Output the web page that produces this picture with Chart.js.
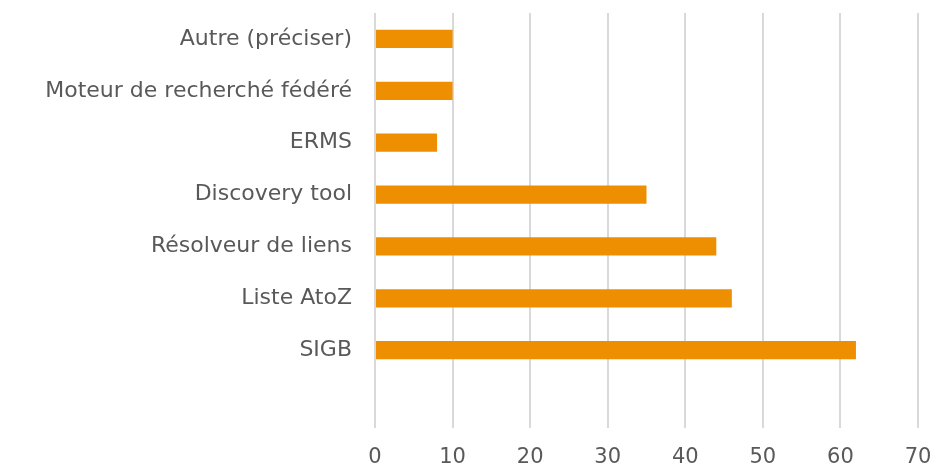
<!DOCTYPE html>
<html>
<head>
<meta charset="utf-8">
<style>
    html, body { margin: 0; padding: 0; background: #fff; }
    #wrap { width: 933px; height: 468px; }
</style>
</head>
<body>
<div id="wrap"><canvas id="myChart"></canvas></div>
<script src="https://cdn.jsdelivr.net/npm/chart.js"></script>
<script>
    // categories from top to bottom, last slot is empty in the original
    const categories = ['Autre (préciser)', 'Moteur de recherché fédéré', 'ERMS', 'Discovery tool', 'Résolveur de liens', 'Liste AtoZ', 'SIGB', ''];
    const values = [10, 10, 8, 35, 44, 46, 62, null];
    const xTicks = [0, 10, 20, 30, 40, 50, 60, 70];

    const textColor = '#595959';
    const family = '"DejaVu Sans", sans-serif';

    const config = {
        type: 'bar',
        data: {
            labels: categories,
            datasets: [{
                data: values,
                backgroundColor: '#ED8F00',
                borderWidth: 0,
                barPercentage: 0.35,
                categoryPercentage: 1,
            }],
        },
        options: {
            indexAxis: 'y',
            responsive: true,
            maintainAspectRatio: false,
            animation: false,
            layout: { padding: { top: 13, right: 15, left: 0, bottom: 0 } },
            plugins: {
                legend: { display: false },
                tooltip: { enabled: false },
            },
            scales: {
                x: {
                    min: 0,
                    max: 70,
                    afterBuildTicks: function (scale) {
                        scale.ticks = xTicks.map(function (v) { return { value: v }; });
                    },
                    afterFit: function (scale) {
                        scale.height = 40;
                        scale.paddingLeft = 0;
                        scale.paddingRight = 0;
                    },
                    grid: { color: '#d9d9d9', lineWidth: 2, drawTicks: false },
                    border: { display: false },
                    ticks: { color: textColor, font: { family: family, size: 21 }, padding: 17 },
                },
                y: {
                    afterFit: function (scale) {
                        scale.width = 375;
                        scale.paddingTop = 0;
                        scale.paddingBottom = 0;
                    },
                    grid: { display: false, drawTicks: false },
                    border: { display: false },
                    ticks: { color: textColor, font: { family: family, size: 22 }, padding: 23 },
                },
            },
        },
    };

    new Chart(document.getElementById('myChart'), config);
</script>
</body>
</html>
